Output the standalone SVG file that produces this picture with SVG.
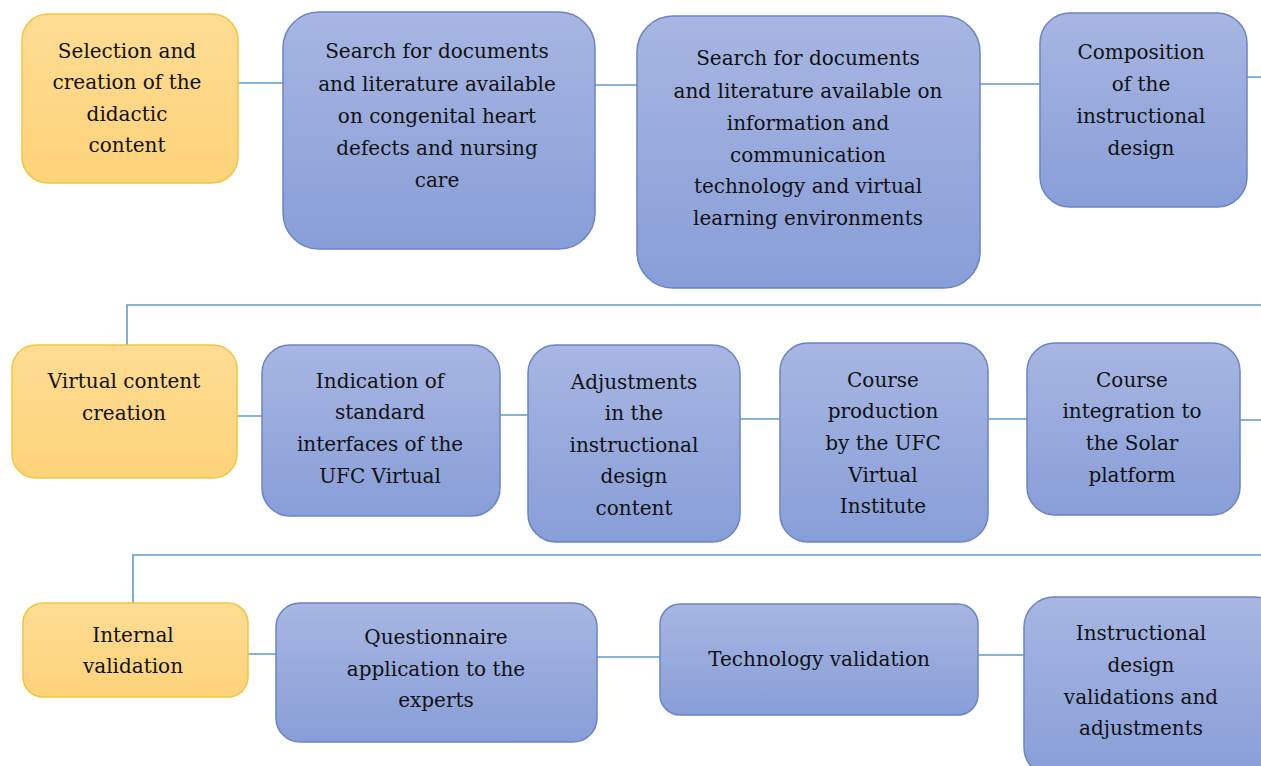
<svg xmlns="http://www.w3.org/2000/svg" width="1261" height="766" viewBox="0 0 1261 766">
<defs>
<linearGradient id="gb" x1="0" y1="0" x2="0" y2="1"><stop offset="0" stop-color="#a7b6e2"/><stop offset="1" stop-color="#889ed8"/></linearGradient>
<linearGradient id="go" x1="0" y1="0" x2="0" y2="1"><stop offset="0" stop-color="#fedc93"/><stop offset="1" stop-color="#fdd37a"/></linearGradient>
<style>
.b{fill:url(#gb);stroke:#6a84c6;stroke-width:1.5}
.o{fill:url(#go);stroke:#f2c53e;stroke-width:1.5}
.c{fill:none;stroke:#5e9ad0;stroke-width:1.6}
text{font-family:"DejaVu Serif","Liberation Serif",serif;font-size:20px;fill:#111;text-anchor:middle}
</style>
</defs>
<rect width="1261" height="766" fill="#fff"/>
<g id="connectors">
<path class="c" d="M238 83H283M595 85H637M980 84H1040M1247 77H1261"/>
<path class="c" d="M127 345V305H1261"/>
<path class="c" d="M237 416H262M500 415H528M740 419H780M988 419H1027M1240 420H1261"/>
<path class="c" d="M133 603V555H1261"/>
<path class="c" d="M248 654H276M597 657H660M978 655H1024"/>
</g>
<g id="n1"><rect class="o" x="22" y="14" width="216" height="169" rx="26"/>
<text x="127" y="58">Selection and</text><text x="127" y="89">creation of the</text><text x="127" y="121">didactic</text><text x="127" y="152">content</text></g>
<g id="n2"><rect class="b" x="283" y="12" width="312" height="237" rx="36"/>
<text x="437" y="58">Search for documents</text><text x="437" y="91">and literature available</text><text x="437" y="123">on congenital heart</text><text x="437" y="155">defects and nursing</text><text x="437" y="187">care</text></g>
<g id="n3"><rect class="b" x="637" y="16" width="343" height="272" rx="36"/>
<text x="808" y="65">Search for documents</text><text x="808" y="98">and literature available on</text><text x="808" y="130">information and</text><text x="808" y="162">communication</text><text x="808" y="193">technology and virtual</text><text x="808" y="225">learning environments</text></g>
<g id="n4"><rect class="b" x="1040" y="13" width="207" height="194" rx="30"/>
<text x="1141" y="59">Composition</text><text x="1141" y="91">of  the</text><text x="1141" y="123">instructional</text><text x="1141" y="155">design</text></g>
<g id="n5"><rect class="o" x="12" y="345" width="225" height="133" rx="24"/>
<text x="124" y="388">Virtual content</text><text x="124" y="420">creation</text></g>
<g id="n6"><rect class="b" x="262" y="345" width="238" height="171" rx="28"/>
<text x="380" y="388">Indication of</text><text x="380" y="419">standard</text><text x="380" y="451">interfaces of the</text><text x="380" y="483">UFC Virtual</text></g>
<g id="n7"><rect class="b" x="528" y="345" width="212" height="197" rx="28"/>
<text x="634" y="389">Adjustments</text><text x="634" y="420">in the</text><text x="634" y="452">instructional</text><text x="634" y="483">design</text><text x="634" y="515">content</text></g>
<g id="n8"><rect class="b" x="780" y="343" width="208" height="199" rx="28"/>
<text x="883" y="387">Course</text><text x="883" y="418">production</text><text x="883" y="450">by the UFC</text><text x="883" y="482">Virtual</text><text x="883" y="513">Institute</text></g>
<g id="n9"><rect class="b" x="1027" y="343" width="213" height="172" rx="28"/>
<text x="1132" y="387">Course</text><text x="1132" y="418">integration to</text><text x="1132" y="450">the Solar</text><text x="1132" y="482">platform</text></g>
<g id="n10"><rect class="o" x="23" y="603" width="225" height="94" rx="20"/>
<text x="133" y="642">Internal</text><text x="133" y="673">validation</text></g>
<g id="n11"><rect class="b" x="276" y="603" width="321" height="139" rx="24"/>
<text x="436" y="644">Questionnaire</text><text x="436" y="676">application to the</text><text x="436" y="707">experts</text></g>
<g id="n12"><rect class="b" x="660" y="604" width="318" height="111" rx="20"/>
<text x="819" y="666">Technology validation</text></g>
<g id="n13"><rect class="b" x="1024" y="597" width="260" height="180" rx="30"/>
<text x="1141" y="640">Instructional</text><text x="1141" y="672">design</text><text x="1141" y="704">validations and</text><text x="1141" y="735">adjustments</text></g>
</svg>
